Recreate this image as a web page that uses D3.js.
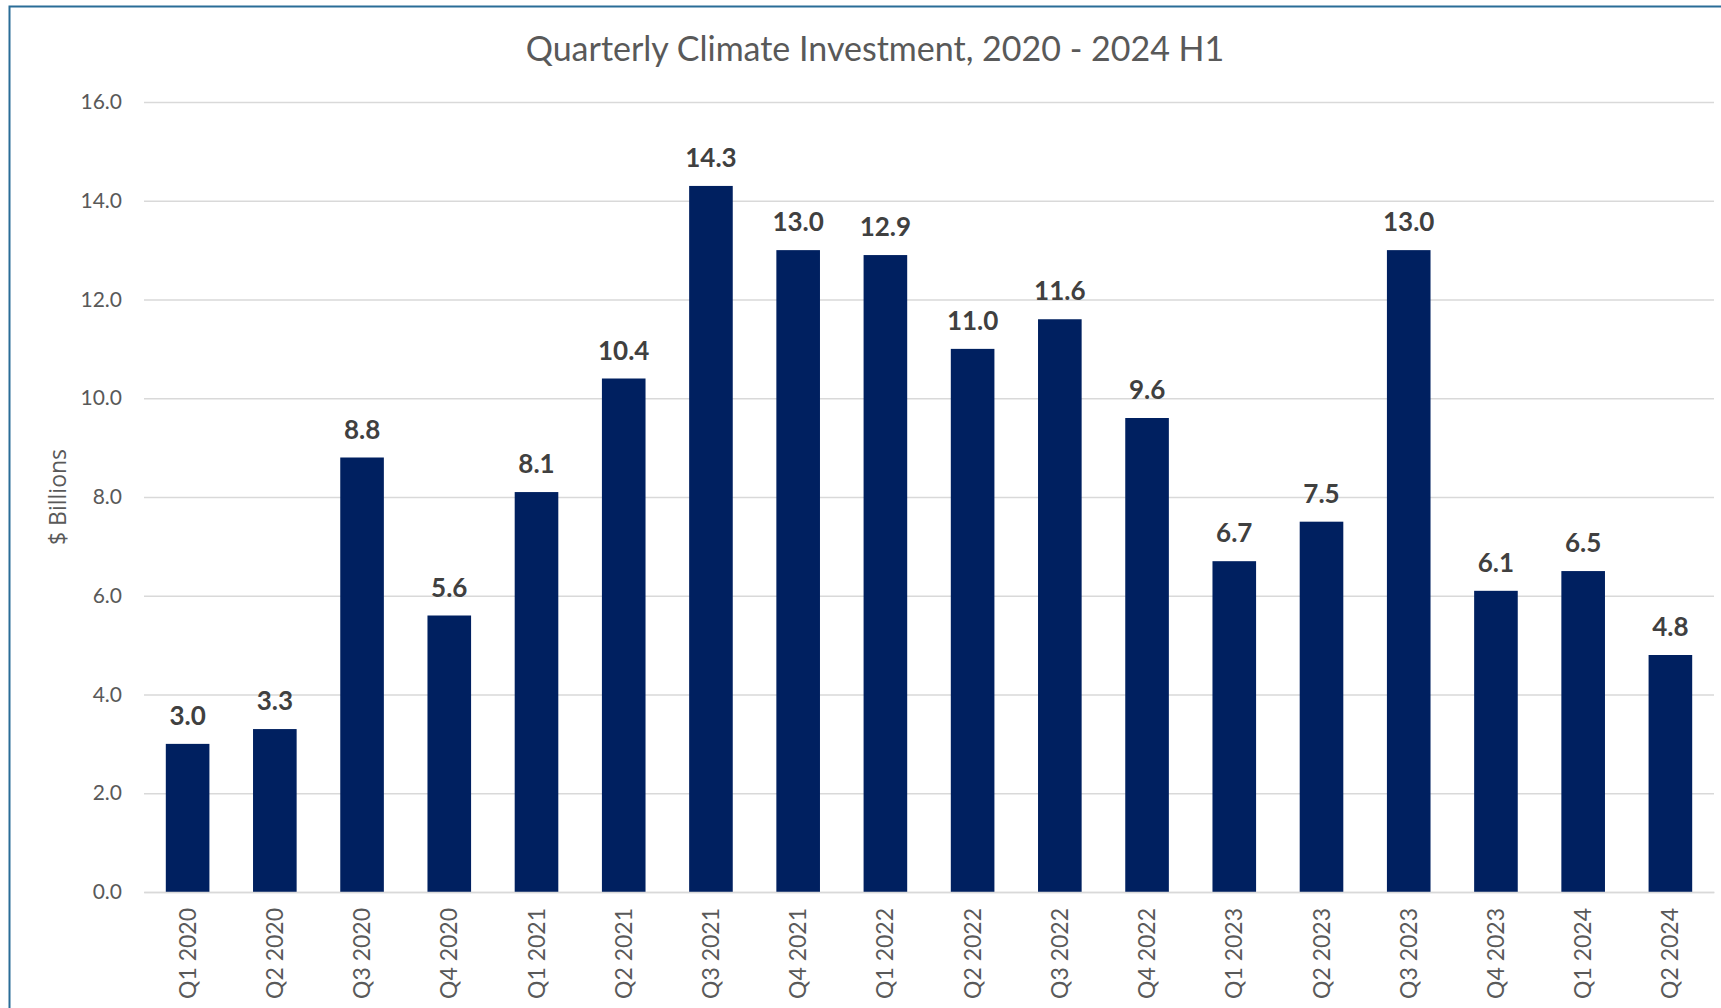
<!DOCTYPE html>
<html>
<head>
<meta charset="utf-8">
<script src="https://cdn.jsdelivr.net/npm/d3@7"></script>
<style>
  body { margin: 0; background: #fff; }
  svg { display: block; }
</style>
</head>
<body>
<div id="chart"></div>
<script>
// chart data
const quarters = ["Q1 2020", "Q2 2020", "Q3 2020", "Q4 2020", "Q1 2021", "Q2 2021",
    "Q3 2021", "Q4 2021", "Q1 2022", "Q2 2022", "Q3 2022", "Q4 2022",
    "Q1 2023", "Q2 2023", "Q3 2023", "Q4 2023", "Q1 2024", "Q2 2024"];
const investment = [3.0, 3.3, 8.8, 5.6, 8.1, 10.4, 14.3, 13.0, 12.9, 11.0, 11.6, 9.6,
    6.7, 7.5, 13.0, 6.1, 6.5, 4.8];
const yTicks = [0, 2, 4, 6, 8, 10, 12, 14, 16];

const W = 1721, H = 1008;
const margin = {top: 102, right: 7, bottom: 116, left: 144},
    width = W - margin.left - margin.right,
    height = H - margin.top - margin.bottom;

const root = d3.select("#chart")
    .append("svg")
    .attr("width", W)
    .attr("height", H);

// outer frame (only top and left edges visible in the picture)
root.append("rect")
    .attr("x", 9.5)
    .attr("y", 6.5)
    .attr("width", W + 50)
    .attr("height", H + 50)
    .attr("fill", "none")
    .attr("stroke", "#2a6d97")
    .attr("stroke-width", 2);

// title
root.append("text")
    .attr("x", 875)
    .attr("y", 61)
    .attr("text-anchor", "middle")
    .attr("font-family", "Lato, sans-serif")
    .attr("font-size", "34px")
    .attr("fill", "#595959")
    .text("Quarterly Climate Investment, 2020 - 2024 H1");

const svg = root.append("g")
    .attr("transform", `translate(${margin.left},${margin.top})`);

const x = d3.scaleBand().domain(quarters).range([0, width]).paddingInner(0.5).paddingOuter(0.25);
const y = d3.scaleLinear().domain([0, 16]).range([height, 0]);

// gridlines + y labels
const yAxis = svg.append("g")
    .call(d3.axisLeft(y).tickValues(yTicks).tickSize(-width).tickPadding(22)
        .tickFormat(d3.format(".1f")));
yAxis.select(".domain").remove();
yAxis.selectAll(".tick line")
    .attr("stroke", "#d9d9d9")
    .attr("stroke-width", 1.5);
yAxis.selectAll(".tick text")
    .attr("font-family", "Lato, sans-serif")
    .attr("font-size", "21px")
    .attr("fill", "#595959");

// y axis title
svg.append("text")
    .attr("transform", `translate(${58 - margin.left + 8},${497 - margin.top}) rotate(-90)`)
    .attr("text-anchor", "middle")
    .attr("font-family", "'Open Sans', sans-serif")
    .attr("font-size", "23px")
    .attr("fill", "#595959")
    .text("$ Billions");

// bars
svg.selectAll(".bar")
    .data(investment)
    .enter()
    .append("rect")
    .attr("class", "bar")
    .attr("x", (d, i) => x(quarters[i]))
    .attr("y", d => y(d))
    .attr("width", x.bandwidth())
    .attr("height", d => height - y(d))
    .attr("fill", "#002060");

// data labels
svg.selectAll(".label")
    .data(investment)
    .enter()
    .append("text")
    .attr("class", "label")
    .attr("x", (d, i) => x(quarters[i]) + x.bandwidth() / 2)
    .attr("y", d => y(d) - 19)
    .attr("text-anchor", "middle")
    .attr("font-family", "Lato, sans-serif")
    .attr("font-weight", "bold")
    .attr("font-size", "26px")
    .attr("fill", "#404040")
    .text(d => d3.format(".1f")(d));

// x axis
const xAxis = svg.append("g")
    .attr("transform", `translate(0,${height})`)
    .call(d3.axisBottom(x).tickSize(0).tickPadding(0));
xAxis.select(".domain")
    .attr("stroke", "#d9d9d9")
    .attr("stroke-width", 1.5);
xAxis.selectAll(".tick text")
    .attr("transform", "rotate(-90)")
    .attr("text-anchor", "end")
    .attr("x", -16)
    .attr("y", 0)
    .attr("dy", "0.35em")
    .attr("font-family", "Lato, sans-serif")
    .attr("font-size", "23px")
    .attr("fill", "#595959");
</script>
</body>
</html>
